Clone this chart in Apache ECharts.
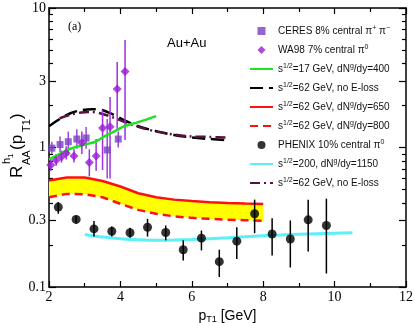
<!DOCTYPE html>
<html>
<head>
<meta charset="utf-8">
<script src="https://cdn.jsdelivr.net/npm/echarts@6/dist/echarts.min.js"></script>
<style>
html, body { margin: 0; padding: 0; background: #fff; }
#chart { width: 415px; height: 323px; }
</style>
</head>
<body>
<div id="chart"></div>
<script>
// CERES 8% central pi+ pi-
const ceresX = [2.08, 2.31, 2.54, 2.78, 3.04, 3.63, 3.94]
const ceresY = [0.99, 1.05, 1.1, 1.15, 1.17, 0.96, 1.15]
const ceresLo = [0.9, 0.93, 0.88, 0.98, 0.98, 0.6, 1.0]
const ceresHi = [1.1, 1.2, 1.3, 1.35, 1.4, 1.6, 1.3]

// WA98 7% central pi0
const wa98X = [2.05, 2.2, 2.35, 2.48, 2.7, 2.92, 3.13, 3.32, 3.5, 3.71, 3.91, 4.13]
const wa98Y = [0.75, 0.81, 0.86, 0.91, 0.87, 1.08, 0.78, 0.87, 1.38, 1.41, 2.63, 3.5]
const wa98Lo = [0.68, 0.74, 0.78, 0.82, 0.78, 0.9, 0.62, 0.68, 0.69, 0.6, 1.33, 1.13]
const wa98Hi = [0.83, 0.9, 0.95, 1.02, 0.97, 1.3, 0.97, 1.15, 1.86, 2.3, 4.1, 5.9]

// PHENIX 10% central pi0
const phenixX = [2.26, 2.76, 3.26, 3.76, 4.27, 4.76, 5.27, 5.76, 6.27, 6.77, 7.26, 7.76, 8.25, 8.76, 9.26, 9.77]
const phenixY = [0.374, 0.305, 0.261, 0.251, 0.245, 0.268, 0.246, 0.185, 0.224, 0.152, 0.213, 0.335, 0.24, 0.221, 0.303, 0.276]
const phenixLo = [0.335, 0.285, 0.23, 0.23, 0.225, 0.23, 0.216, 0.155, 0.183, 0.118, 0.159, 0.243, 0.168, 0.138, 0.18, 0.125]
const phenixHi = [0.406, 0.326, 0.297, 0.272, 0.266, 0.308, 0.276, 0.216, 0.254, 0.185, 0.268, 0.423, 0.311, 0.3, 0.423, 0.43]

// s^1/2=17 GeV, dNg/dy=400
const greenX = [2, 2.3, 2.6, 3, 3.3, 3.6, 3.9, 4.1, 4.5, 5]
const greenY = [0.82, 0.9, 0.98, 1.05, 1.1, 1.22, 1.33, 1.42, 1.52, 1.68]

// s^1/2=62 GeV, no E-loss (black)
const noLossX = [2, 2.3, 2.6, 2.9, 3.2, 3.5, 3.8, 4.1, 4.5, 5, 5.5, 6, 6.5, 7]
const noLossY = [1.42, 1.6, 1.76, 1.85, 1.88, 1.85, 1.72, 1.57, 1.42, 1.31, 1.23, 1.18, 1.15, 1.13]

// s^1/2=62 GeV, no E-loss (maroon)
const noLoss2X = [2.3, 2.6, 2.9, 3.2, 3.5, 3.8, 4.1, 4.5, 5, 5.5, 6, 6.5, 7]
const noLoss2Y = [1.62, 1.72, 1.78, 1.8, 1.74, 1.64, 1.53, 1.41, 1.3, 1.24, 1.2, 1.19, 1.18]

// s^1/2=62 GeV, dNg/dy=650 (solid) and 800 (dashed), band between
const bandX = [2, 2.5, 3, 3.5, 4, 4.5, 5, 5.5, 6, 6.5, 7, 7.5, 8]
const red650 = [0.58, 0.61, 0.61, 0.575, 0.525, 0.47, 0.44, 0.423, 0.413, 0.405, 0.4, 0.396, 0.393]
const red800 = [0.44, 0.465, 0.462, 0.44, 0.395, 0.357, 0.335, 0.321, 0.313, 0.308, 0.304, 0.301, 0.298]

// s^1/2=200, dNg/dy=1150
const cyanX = [3, 3.5, 4, 4.5, 5, 5.5, 6, 6.5, 7, 7.5, 8, 8.5, 9, 9.5, 10, 10.5]
const cyanY = [0.238, 0.228, 0.222, 0.218, 0.216, 0.217, 0.219, 0.222, 0.225, 0.229, 0.233, 0.236, 0.239, 0.241, 0.243, 0.245]

const yLabelTicks = [0.1, 0.3, 1, 3, 10]
const yMinorTicks = [0.2, 0.4, 0.5, 0.6, 0.7, 0.8, 0.9, 2, 4, 5, 6, 7, 8, 9]

const legendText = {
  ceres: 'CERES 8% central π{sup|+} π{sup|−}',
  wa98: 'WA98 7% central π{sup|0}',
  g17: 's{sup|1/2}=17 GeV, dN{sup|g}/dy=400',
  nl62: 's{sup|1/2}=62 GeV, no E-loss',
  r650: 's{sup|1/2}=62 GeV, dN{sup|g}/dy=650',
  r800: 's{sup|1/2}=62 GeV, dN{sup|g}/dy=800',
  phenix: 'PHENIX 10% central π{sup|0}',
  c200: 's{sup|1/2}=200, dN{sup|g}/dy=1150',
  nl62b: 's{sup|1/2}=62 GeV, no E-loss'
}

const zip = (xs, ys) => xs.map((x, i) => [x, ys[i]])
const bars = (xs, lo, hi) => xs.map((x, i) => [x, lo[i], hi[i]])

function errRender(color) {
  return function (params, api) {
    const a = api.coord([api.value(0), api.value(1)])
    const b = api.coord([api.value(0), api.value(2)])
    return {
      type: 'line',
      shape: { x1: a[0], y1: a[1], x2: b[0], y2: b[1] },
      style: { stroke: color, lineWidth: 1.5 }
    }
  }
}

// yellow band between the 650 and 800 curves, drawn once as one polygon
function bandRender(params, api) {
  if (params.dataIndex !== 0) return null
  const top = bandX.map((x, i) => api.coord([x, red650[i]]))
  const bottom = bandX.map((x, i) => api.coord([x, red800[i]])).reverse()
  return {
    type: 'polygon',
    shape: { points: top.concat(bottom) },
    style: { fill: '#ffff00' }
  }
}

const serif = '"Liberation Serif", "Times New Roman", serif'
const sans = '"Liberation Sans", Arial, sans-serif'
const axisLine = { lineStyle: { color: '#000', width: 1.5 } }
const noDot = { opacity: 0 }

function lineSeries(name, data, color, width, type, z, smooth) {
  return {
    name, type: 'line', data, symbol: 'none', smooth: smooth === undefined ? 0.3 : smooth, z: z || 3,
    lineStyle: { color, width, type: type || 'solid' },
    itemStyle: { color: 'rgba(0,0,0,0)' }
  }
}

const chart = echarts.init(document.getElementById('chart'))
chart.setOption({
  animation: false,
  backgroundColor: '#fff',
  grid: { left: 49, right: 9, top: 8, bottom: 36, outerBoundsMode: 'none', containLabel: false },
  xAxis: [
    {
      type: 'value', min: 2, max: 12, interval: 2,
      name: 'p{sub|T1} [GeV]', nameLocation: 'middle', nameGap: 17,
      nameTextStyle: {
        fontFamily: sans, fontSize: 14, color: '#000',
        rich: { sub: { fontSize: 9, padding: [8, 0, 0, 0], fontFamily: sans } }
      },
      axisLine, splitLine: { show: false },
      axisTick: { inside: true, length: 6, lineStyle: { width: 1.2, color: '#000' } },
      minorTick: { show: true, splitNumber: 2, length: 4, lineStyle: { width: 1.2, color: '#000' } },
      axisLabel: { fontFamily: serif, fontSize: 14, color: '#000', margin: 3 }
    },
    {
      type: 'value', min: 2, max: 12, interval: 2, position: 'top',
      axisLine, splitLine: { show: false },
      axisTick: { inside: true, length: 6, lineStyle: { width: 1.2, color: '#000' } },
      minorTick: { show: true, splitNumber: 2, length: 4, lineStyle: { width: 1.2, color: '#000' } },
      axisLabel: { show: false }
    }
  ],
  yAxis: [
    {
      type: 'log', logBase: 10, min: 0.1, max: 10, position: 'left',
      axisLine, splitLine: { show: false },
      axisTick: { inside: true, length: 7, customValues: yLabelTicks, lineStyle: { width: 1.2, color: '#000' } },
      axisLabel: { customValues: yLabelTicks, fontFamily: serif, fontSize: 14, color: '#000', margin: 3 }
    },
    {
      type: 'log', logBase: 10, min: 0.1, max: 10, position: 'left',
      axisLine: { show: false }, splitLine: { show: false },
      axisTick: { inside: true, length: 4, customValues: yMinorTicks, lineStyle: { width: 1.2, color: '#000' } },
      axisLabel: { show: false }
    },
    {
      type: 'log', logBase: 10, min: 0.1, max: 10, position: 'right',
      axisLine, splitLine: { show: false },
      axisTick: { inside: true, length: 7, customValues: yLabelTicks, lineStyle: { width: 1.2, color: '#000' } },
      axisLabel: { show: false }
    },
    {
      type: 'log', logBase: 10, min: 0.1, max: 10, position: 'right',
      axisLine: { show: false }, splitLine: { show: false },
      axisTick: { inside: true, length: 4, customValues: yMinorTicks, lineStyle: { width: 1.2, color: '#000' } },
      axisLabel: { show: false }
    }
  ],
  legend: {
    orient: 'vertical', left: 249, top: 24, padding: 0,
    itemWidth: 23, itemHeight: 8, itemGap: 5,
    data: [
      { name: 'ceres', icon: 'path://M0,0L1,0L1,1L0,1Z' },
      { name: 'wa98', icon: 'path://M0.5,0L1,0.5L0.5,1L0,0.5Z' },
      { name: 'g17', itemStyle: noDot },
      { name: 'nl62', itemStyle: noDot },
      { name: 'r650', itemStyle: noDot },
      { name: 'r800', itemStyle: noDot },
      { name: 'phenix', icon: 'circle' },
      { name: 'c200', itemStyle: noDot },
      { name: 'nl62b', itemStyle: noDot }
    ],
    formatter: (name) => legendText[name],
    textStyle: {
      fontFamily: sans, fontSize: 10, color: '#111', lineHeight: 14,
      rich: { sup: { fontSize: 7, fontFamily: sans, padding: [0, 0, 6, 0] } }
    }
  },
  graphic: [
    { type: 'text', left: 68, top: 21, style: { text: '(a)', font: '12px ' + serif, fill: '#000' } },
    { type: 'text', left: 167, top: 37, style: { text: 'Au+Au', font: '13px ' + sans, fill: '#000' } },
    {
      type: 'group', x: 0, y: 178, rotation: Math.PI / 2,
      children: [
        { type: 'text', x: 0, y: 17, style: { text: 'R', font: '17px ' + sans, fill: '#000', verticalAlign: 'middle' } },
        { type: 'text', x: 14, y: 7, style: { text: 'h', font: '11px ' + sans, fill: '#000', verticalAlign: 'middle' } },
        { type: 'text', x: 20, y: 11, style: { text: '1', font: '8px ' + sans, fill: '#000', verticalAlign: 'middle' } },
        { type: 'text', x: 13, y: 27, style: { text: 'AA', font: '11px ' + sans, fill: '#000', verticalAlign: 'middle' } },
        { type: 'text', x: 28, y: 17, style: { text: '(p', font: '17px ' + sans, fill: '#000', verticalAlign: 'middle' } },
        { type: 'text', x: 46, y: 27, style: { text: 'T1', font: '11px ' + sans, fill: '#000', verticalAlign: 'middle' } },
        { type: 'text', x: 59, y: 17, style: { text: ')', font: '17px ' + sans, fill: '#000', verticalAlign: 'middle' } }
      ]
    }
  ],
  series: [
    {
      type: 'custom', name: 'band', data: bars(bandX, red800, red650),
      encode: { x: 0, y: [1, 2] }, renderItem: bandRender, z: 1, silent: true
    },
    lineSeries('r650', zip(bandX, red650), '#ff1010', 2.5, 'solid', 3, false),
    lineSeries('r800', zip(bandX, red800), '#ff1010', 2.5, [8, 5], 3, false),
    lineSeries('c200', zip(cyanX, cyanY), '#5cf0f8', 3, 'solid'),
    lineSeries('nl62', zip(noLossX, noLossY), '#000', 2.5, [13, 6], 4),
    lineSeries('nl62b', zip(noLoss2X, noLoss2Y), '#5a1040', 2.5, [10, 4, 2, 4], 4),
    {
      type: 'custom', name: 'ceresErr', data: bars(ceresX, ceresLo, ceresHi),
      encode: { x: 0, y: [1, 2] }, renderItem: errRender('#9d45d8'), z: 5, silent: true
    },
    {
      type: 'custom', name: 'wa98Err', data: bars(wa98X, wa98Lo, wa98Hi),
      encode: { x: 0, y: [1, 2] }, renderItem: errRender('#a030e0'), z: 5, silent: true
    },
    {
      type: 'custom', name: 'phenixErr', data: bars(phenixX, phenixLo, phenixHi),
      encode: { x: 0, y: [1, 2] }, renderItem: errRender('#000'), z: 5, silent: true
    },
    lineSeries('g17', zip(greenX, greenY), '#22e022', 2.5, 'solid', 6),
    {
      name: 'ceres', type: 'scatter', data: zip(ceresX, ceresY), symbol: 'rect', symbolSize: 7,
      itemStyle: { color: '#7b3fc4' }, z: 7
    },
    {
      name: 'wa98', type: 'scatter', data: zip(wa98X, wa98Y), symbol: 'diamond', symbolSize: 9,
      itemStyle: { color: '#9a1ad8' }, z: 7
    },
    {
      name: 'phenix', type: 'scatter', data: zip(phenixX, phenixY), symbol: 'circle', symbolSize: 9,
      itemStyle: { color: '#000' }, z: 7
    }
  ]
})
</script>
</body>
</html>
